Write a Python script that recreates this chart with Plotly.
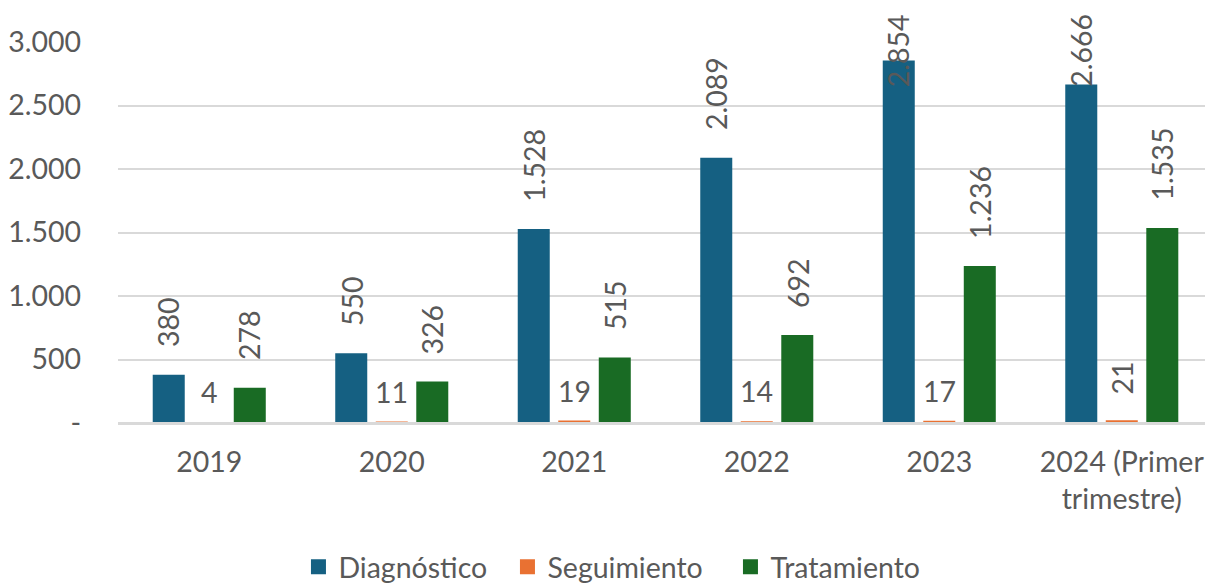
import plotly.graph_objects as go

categories = ["2019", "2020", "2021", "2022", "2023", "2024 (Primer<br>trimestre)"]
diagnostico = [380, 550, 1528, 2089, 2854, 2666]
seguimiento = [4, 11, 19, 14, 17, 21]
tratamiento = [278, 326, 515, 692, 1236, 1535]
diag_labels = ["380", "550", "1.528", "2.089", "2.854", "2.666"]
seg_labels = ["4", "11", "19", "14", "17", "21"]
trat_labels = ["278", "326", "515", "692", "1.236", "1.535"]
seg_label_angle = [0, 0, 0, 0, 0, -90]
y_tickvals = [0, 500, 1000, 1500, 2000, 2500, 3000]
y_ticktext = ["-", "500", "1.000", "1.500", "2.000", "2.500", "3.000"]

BLUE = "#156082"
ORANGE = "#E97132"
GREEN = "#196B24"
TEXT = "#595959"
GRID = "#D9D9D9"
FONT = "Lato"
FS = 28.5

LABEL_PAD = 200      # gap above bar, in data units
LABEL_CEIL = 2630    # highest label baseline (labels pushed down to stay in chart)
BAR_OFFSET_PX = 40.5
LEGEND_WIDTHS = [164, 178, 160]

series = [("Diagnóstico", diagnostico, BLUE),
          ("Seguimiento", seguimiento, ORANGE),
          ("Tratamiento", tratamiento, GREEN)]

fig = go.Figure()
for name, vals, col in series:
    fig.add_trace(go.Bar(name=name, x=categories, y=vals, marker_color=col,
                         marker_line_width=0, hoverinfo="skip", showlegend=False))
# legend entries (square swatches)
for (name, vals, col), lw in zip(series, LEGEND_WIDTHS):
    fig.add_trace(go.Scatter(name=name, x=[None], y=[None], mode="markers",
                             marker=dict(symbol="square", size=15, color=col),
                             showlegend=True, hoverinfo="skip", legendwidth=lw))

annotations = []
for i, c in enumerate(categories):
    annotations.append(dict(x=i, y=min(diagnostico[i] + LABEL_PAD, LABEL_CEIL),
                            text=diag_labels[i], textangle=-90, xshift=-BAR_OFFSET_PX,
                            yanchor="bottom", showarrow=False))
    annotations.append(dict(x=i, y=min(tratamiento[i] + LABEL_PAD, LABEL_CEIL),
                            text=trat_labels[i], textangle=-90, xshift=BAR_OFFSET_PX,
                            yanchor="bottom", showarrow=False))
    annotations.append(dict(x=i, y=seguimiento[i], text=seg_labels[i],
                            textangle=seg_label_angle[i], xshift=0,
                            yshift=11 if seg_label_angle[i] == 0 else 24,
                            yanchor="bottom", showarrow=False))
for a in annotations:
    a["font"] = dict(family=FONT, size=FS, color=TEXT)
    a["xref"] = "x"
    a["yref"] = "y"

fig.update_layout(
    width=1205, height=586,
    margin=dict(l=118, r=0, t=42, b=163, autoexpand=False),
    plot_bgcolor="white", paper_bgcolor="white",
    barmode="group", bargap=0.334, bargroupgap=0.21,
    font=dict(family=FONT, size=FS, color=TEXT),
    annotations=annotations,
    showlegend=True,
    legend=dict(orientation="h", xref="container", yref="container",
                x=0.512, xanchor="center", y=0.032, yanchor="middle",
                font=dict(family=FONT, size=FS, color=TEXT),
                traceorder="normal", itemclick=False),
    xaxis=dict(type="category", range=[-0.5, 5.456], showgrid=False, automargin=False,
               showline=False, ticks="",
               ticklabelstandoff=19, tickfont=dict(family=FONT, size=FS, color=TEXT)),
    yaxis=dict(range=[0, 3000], tickvals=y_tickvals, ticktext=y_ticktext, automargin=False,
               showgrid=True, gridcolor=GRID, gridwidth=2,
               zeroline=True, zerolinecolor=GRID, zerolinewidth=3,
               showline=False, ticks="", ticklabelstandoff=36,
               tickfont=dict(family=FONT, size=FS, color=TEXT)),
)
try:
    fig.update_yaxes(zerolinelayer="above traces")
except Exception:
    pass

fig.write_html("out.html", config={"displayModeBar": False, "staticPlot": True},
               post_script="document.body.style.margin='0';document.body.style.overflow='hidden';")
